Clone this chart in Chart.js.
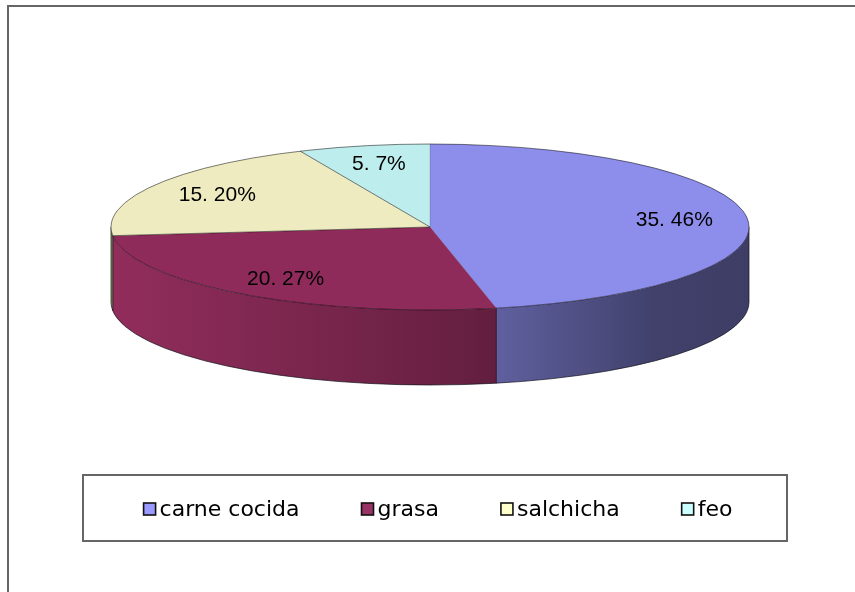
<!DOCTYPE html>
<html><head><meta charset="utf-8">
<script src="https://cdn.jsdelivr.net/npm/chart.js@4/dist/chart.umd.min.js"></script>
<style>html,body{margin:0;padding:0;background:#fff;}canvas{display:block}</style>
</head><body>
<canvas id="c" width="855" height="592"></canvas>
<script>
// ---- data ----
const categories = ['carne cocida', 'grasa', 'salchicha', 'feo'];
const values = [35, 20, 15, 5];
const percentLabels = ['46%', '27%', '20%', '7%'];
// ---- colours ----
const topColors = ['#8D8DEB', '#8E2B5A', '#EDEBBF', '#BEEDED'];
const legendColors = ['#9999FF', '#993366', '#FFFFCC', '#CCFFFF'];
const sideBase = ['#8D8DEB', '#922D5C', '#72904E', '#9ED0D0'];

const GEOM = { cx: 430, cy: 227, rx: 319, ry: 83, depth: 75, labelFrac: 0.77 };
const SHADE = [[0, 1.0], [0.6, 0.68], [0.85, 0.46], [1, 0.43]];

function shade(hex, f) {
  const n = parseInt(hex.slice(1), 16);
  const r = Math.round(((n >> 16) & 255) * f), g = Math.round(((n >> 8) & 255) * f), b = Math.round((n & 255) * f);
  return `rgb(${r},${g},${b})`;
}

const pie3d = {
  id: 'pie3d',
  beforeDatasetsDraw(chart) {
    const ctx = chart.ctx, g = GEOM;
    const meta = chart.getDatasetMeta(0);
    // side walls (front half of the ellipse)
    meta.data.forEach((arc, i) => {
      const p = arc.getProps(['startAngle', 'endAngle'], true);
      const a = Math.max(p.startAngle, 0), b = Math.min(p.endAngle, Math.PI);
      if (b <= a) return;
      const grad = ctx.createLinearGradient(g.cx - g.rx, 0, g.cx + g.rx, 0);
      SHADE.forEach(([pos, f]) => grad.addColorStop(pos, shade(sideBase[i], f)));
      ctx.save();
      ctx.fillStyle = grad;
      ctx.beginPath();
      ctx.ellipse(g.cx, g.cy, g.rx, g.ry, 0, a, b, false);
      ctx.ellipse(g.cx, g.cy + g.depth, g.rx, g.ry, 0, b, a, true);
      ctx.closePath();
      ctx.fill();
      // vertical edge at slice boundary
      ctx.strokeStyle = 'rgba(30,10,30,0.55)';
      ctx.lineWidth = 1;
      [p.startAngle, p.endAngle].forEach(t => {
        if (t > 0.02 && t < Math.PI - 0.02) {
          const x = g.cx + g.rx * Math.cos(t), y = g.cy + g.ry * Math.sin(t);
          ctx.beginPath(); ctx.moveTo(x, y); ctx.lineTo(x, y + g.depth); ctx.stroke();
        }
      });
      ctx.restore();
    });
    // silhouette of the side
    ctx.save();
    ctx.strokeStyle = 'rgba(20,20,30,0.7)';
    ctx.lineWidth = 1;
    ctx.beginPath();
    ctx.moveTo(g.cx + g.rx, g.cy);
    ctx.lineTo(g.cx + g.rx, g.cy + g.depth);
    ctx.ellipse(g.cx, g.cy + g.depth, g.rx, g.ry, 0, 0, Math.PI, false);
    ctx.lineTo(g.cx - g.rx, g.cy);
    ctx.stroke();
    ctx.restore();
    // transform the library's circular pie into the flattened top face
    const p0 = meta.data[0].getProps(['x', 'y', 'outerRadius'], true);
    ctx.save();
    ctx.translate(g.cx, g.cy);
    ctx.scale(g.rx / p0.outerRadius, g.ry / p0.outerRadius);
    ctx.translate(-p0.x, -p0.y);
  },
  afterDatasetsDraw(chart) {
    const ctx = chart.ctx, g = GEOM;
    ctx.restore();
    const meta = chart.getDatasetMeta(0);
    ctx.save();
    // outlines on top face
    ctx.strokeStyle = 'rgba(0,0,0,0.5)';
    ctx.lineWidth = 1;
    ctx.beginPath();
    ctx.ellipse(g.cx, g.cy, g.rx, g.ry, 0, 0, Math.PI * 2);
    ctx.stroke();
    meta.data.forEach((arc, i) => {
      const p = arc.getProps(['startAngle'], true);
      ctx.strokeStyle = (i === 0 || i === 1) ? 'rgba(0,0,0,0.15)' : 'rgba(0,0,0,0.5)';
      ctx.beginPath();
      ctx.moveTo(g.cx, g.cy);
      ctx.lineTo(g.cx + g.rx * Math.cos(p.startAngle), g.cy + g.ry * Math.sin(p.startAngle));
      ctx.stroke();
    });
    // data labels
    ctx.fillStyle = '#000';
    ctx.font = '21px "Liberation Sans", Arial, sans-serif';
    ctx.textAlign = 'center';
    ctx.textBaseline = 'middle';
    meta.data.forEach((arc, i) => {
      const p = arc.getProps(['startAngle', 'endAngle'], true);
      const mid = (p.startAngle + p.endAngle) / 2;
      const x = g.cx + g.rx * g.labelFrac * Math.cos(mid);
      const y = g.cy + g.ry * g.labelFrac * Math.sin(mid);
      ctx.fillText(values[i] + '. ' + percentLabels[i], x, y);
    });
    ctx.restore();
  },
  afterDraw(chart) {
    const ctx = chart.ctx;
    ctx.save();
    // outer frame
    ctx.strokeStyle = '#666';
    ctx.lineWidth = 2;
    ctx.strokeRect(8, 6, 900, 700);
    // legend box
    ctx.strokeRect(83, 475, 704, 66);
    // legend items
    ctx.font = '22px "DejaVu Sans", sans-serif';
    ctx.textBaseline = 'alphabetic';
    ctx.textAlign = 'left';
    const box = 12, gapBox = 4, gapItem = 62;
    const widths = categories.map(c => ctx.measureText(c).width);
    const total = widths.reduce((s, w) => s + box + gapBox + w, 0) + gapItem * (categories.length - 1);
    let x = 438 - total / 2;
    categories.forEach((c, i) => {
      ctx.fillStyle = legendColors[i];
      ctx.fillRect(x, 503, box, box);
      ctx.strokeStyle = '#111';
      ctx.lineWidth = 1.6;
      ctx.strokeRect(x, 503, box, box);
      ctx.fillStyle = '#000';
      ctx.fillText(c, x + box + gapBox, 516);
      x += box + gapBox + widths[i] + gapItem;
    });
    ctx.restore();
  }
};

new Chart(document.getElementById('c'), {
  type: 'pie',
  data: {
    labels: categories,
    datasets: [{ data: values, backgroundColor: topColors, borderWidth: 0, clip: false }]
  },
  options: {
    responsive: false,
    animation: false,
    layout: { padding: 100 },
    events: [],
    plugins: { legend: { display: false }, tooltip: { enabled: false } }
  },
  plugins: [pie3d]
});
</script>
</body></html>
